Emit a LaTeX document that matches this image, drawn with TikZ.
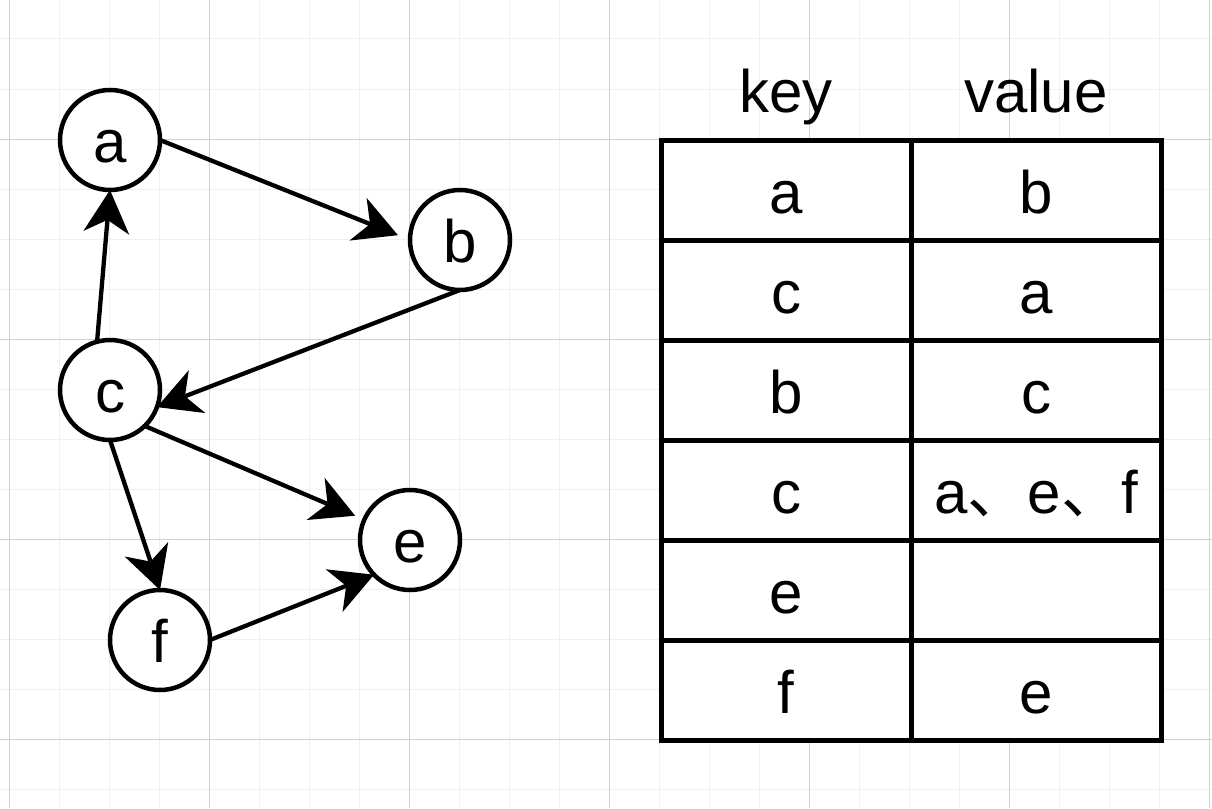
\documentclass[tikz,border=0pt]{standalone}
\usepackage{fontspec}
\setmainfont{Liberation Sans}
\newfontfamily\cjkfont{Noto Sans CJK SC}
\usetikzlibrary{arrows.meta}

\begin{document}
\begin{tikzpicture}[x=1pt, y=-1pt,
  vertex/.style={draw, circle, fill=white, line width=4.5pt, minimum size=100pt, inner sep=0pt, outer sep=0pt,
    font=\fontsize{60}{72}\selectfont, text height=44pt, text depth=0pt},
  edge/.style={line width=4.3pt, -{Stealth[length=43pt, width=46pt, inset=13pt, line width=0pt]}},
  cell/.style={anchor=base, inner sep=0pt, font=\fontsize{60}{72}\selectfont},
  minorline/.style={draw=black!6, line width=1pt},
  majorline/.style={draw=black!18, line width=1pt}]
 \useasboundingbox (0,0) rectangle (1212,808);
 \fill[white] (0,0) rectangle (1212,808);

 % background grid
 \foreach \x in {9,59,...,1209} \draw[minorline] (\x,0) -- (\x,808);
 \foreach \y in {39,89,...,789} \draw[minorline] (0,\y) -- (1212,\y);
 \foreach \x in {9,209,...,1209} \draw[majorline] (\x,0) -- (\x,808);
 \foreach \y in {139,339,...,739} \draw[majorline] (0,\y) -- (1212,\y);

 % graph
 \node[vertex] (a) at (110,140) {a};
 \node[vertex] (b) at (460,240) {b};
 \node[vertex] (c) at (110,390) {c};
 \node[vertex] (e) at (410,540) {e};
 \node[vertex] (f) at (160,640) {f};

 \draw[edge, shorten >=13pt] (a.east) -- (b.west);
 \draw[edge] (b.south) -- (c.-20);
 \draw[edge] (c.105) -- (a.south);
 \draw[edge, shorten >=10pt] (c.-46) -- (e.156);
 \draw[edge] (c.south) -- (f.north);
 \draw[edge] (f.east) -- (e.224);

 % table
 \filldraw[fill=white, line width=5pt] (661,140) rectangle (1161,740);
 \foreach \y in {240,340,...,640} \draw[line width=5pt] (661,\y) -- (1161,\y);
 \draw[line width=5pt] (911,140) -- (911,740);

 \node[cell] (keyhead) at (786,112) {key};
 \node[cell] (valhead) at (1036,112) {value};

 \node[cell] (k1) at (786,213) {a};
 \node[cell] (v1) at (1036,213) {b};
 \node[cell] (k2) at (786,313) {c};
 \node[cell] (v2) at (1036,313) {a};
 \node[cell] (k3) at (786,413) {b};
 \node[cell] (v3) at (1036,413) {c};
 \node[cell] (k4) at (786,513) {c};
 \node[cell] (v4) at (1036,513) {a{\cjkfont 、}e{\cjkfont 、}f};
 \node[cell] (k5) at (786,613) {e};
 \node[cell] (k6) at (786,713) {f};
 \node[cell] (v6) at (1036,713) {e};
\end{tikzpicture}
\end{document}
